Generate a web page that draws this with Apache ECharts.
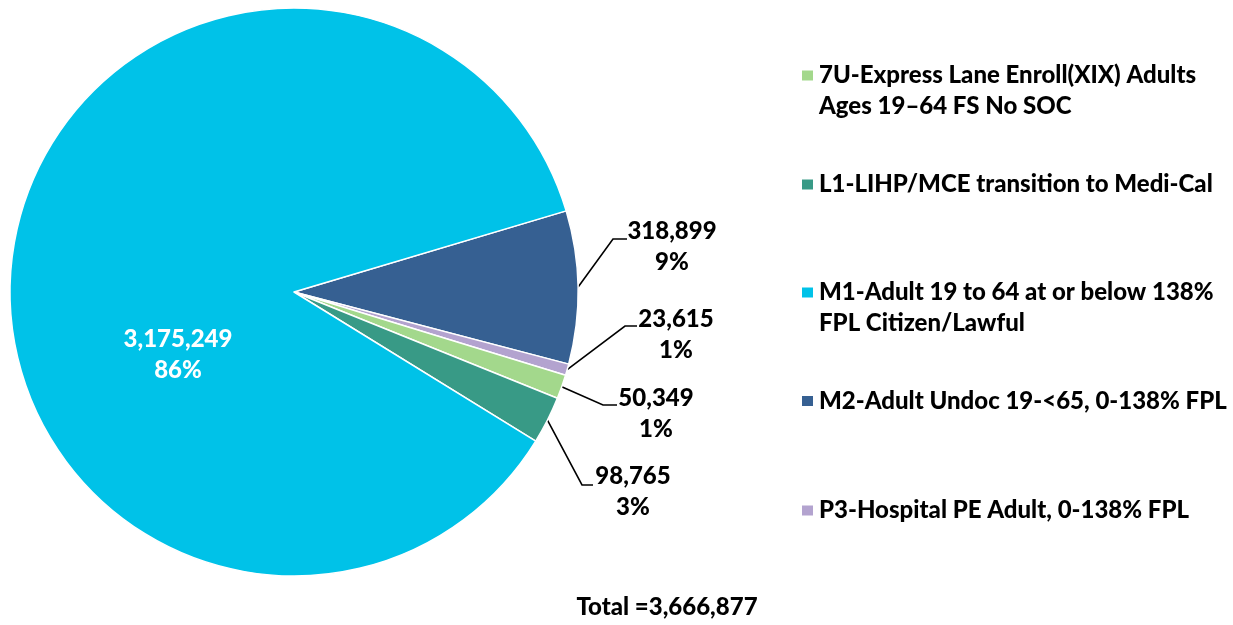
<!DOCTYPE html>
<html><head><meta charset="utf-8">
<script src="https://cdn.jsdelivr.net/npm/echarts@6/dist/echarts.min.js"></script>
<style>html,body{margin:0;padding:0;background:#fff}#c{width:1233px;height:625px}</style>
</head><body><div id="c"></div>
<script>
// ---- data ----
const categories = [
  '7U-Express Lane Enroll(XIX) Adults\nAges 19–64 FS No SOC',
  'L1-LIHP/MCE transition to Medi-Cal',
  'M1-Adult 19 to 64 at or below 138%\nFPL Citizen/Lawful',
  'M2-Adult Undoc 19-<65, 0-138% FPL',
  'P3-Hospital PE Adult, 0-138% FPL'
];
const values = [50349, 98765, 3175249, 318899, 23615];
const colors = ['#a3d88c', '#389a86', '#00c2e8', '#366092', '#b3a3cf'];
// drawing order of slices, clockwise
const sliceOrder = [3, 4, 0, 1, 2];

// ---- layout ----
const FONT = 'Lato';
const FS = 24;
const FW = 900;
const legendTops = [60, 169, 277, 385.5, 495];
// per category: [labelCenterX, labelMiddleY, lineEndX, lineEndY, elbowX]
const labelSpots = {
  3: [672, 247, 627, 239, 613],
  4: [676, 335, 637, 326, 625],
  0: [656, 414, 617, 405, 603],
  1: [633, 492, 593, 485, 582],
  2: [178, 355]
};

const fmt = v => v.toLocaleString('en-US');
const total = values.reduce((a, b) => a + b, 0);

const legends = categories.map((name, i) => {
  const twoLine = name.indexOf('\n') >= 0;
  return {
    orient: 'vertical', left: 800, top: legendTops[i], padding: 0,
    data: [name], itemWidth: 13, itemHeight: twoLine ? 43 : 12,
    icon: twoLine ? 'path://M0,0H13V12H0Z M0,43H0.01V43.01H0Z' : 'rect',
    selectedMode: false,
    textStyle: {
      fontFamily: FONT, fontWeight: FW, fontSize: FS, color: '#000', lineHeight: 31
    }
  };
});

const pieData = sliceOrder.map(i => {
  const d = { name: categories[i], value: values[i], itemStyle: { color: colors[i] } };
  if (i === 2) {
    d.label = { position: 'inside', rich: { a: { color: '#fff', width: 110 } } };
  }
  return d;
});

const chart = echarts.init(document.getElementById('c'), null, { renderer: 'canvas' });
chart.setOption({
  animation: false,
  backgroundColor: '#fff',
  title: {
    text: 'Total =' + fmt(total), left: 667, top: 595, textAlign: 'center', padding: 0,
    textStyle: { fontFamily: FONT, fontWeight: FW, fontSize: FS, color: '#000' }
  },
  legend: legends,
  series: [{
    type: 'pie',
    center: [294, 292],
    radius: 284,
    startAngle: 16.6,
    clockwise: true,
    percentPrecision: 0,
    avoidLabelOverlap: false,
    itemStyle: { borderColor: '#fff', borderWidth: 1.5 },
    label: {
      show: true, position: 'outside',
      formatter: p => '{a|' + fmt(p.value) + '}\n{a|' + p.percent + '%}',
      rich: { a: { fontFamily: FONT, fontWeight: FW, fontSize: FS, lineHeight: 31, color: '#000', width: 95, align: 'center' } }
    },
    labelLine: { show: true, length: 20, length2: 15, lineStyle: { color: '#000', width: 1.6 } },
    labelLayout: function (p) {
      const ci = sliceOrder[p.dataIndex];
      const s = labelSpots[ci];
      const res = { x: s[0], y: s[1], align: 'center', verticalAlign: 'middle' };
      if (ci !== 2 && p.labelLinePoints) {
        res.labelLinePoints = [p.labelLinePoints[0], [s[4], s[3]], [s[2], s[3]]];
      }
      return res;
    },
    data: pieData
  }]
});
</script></body></html>
